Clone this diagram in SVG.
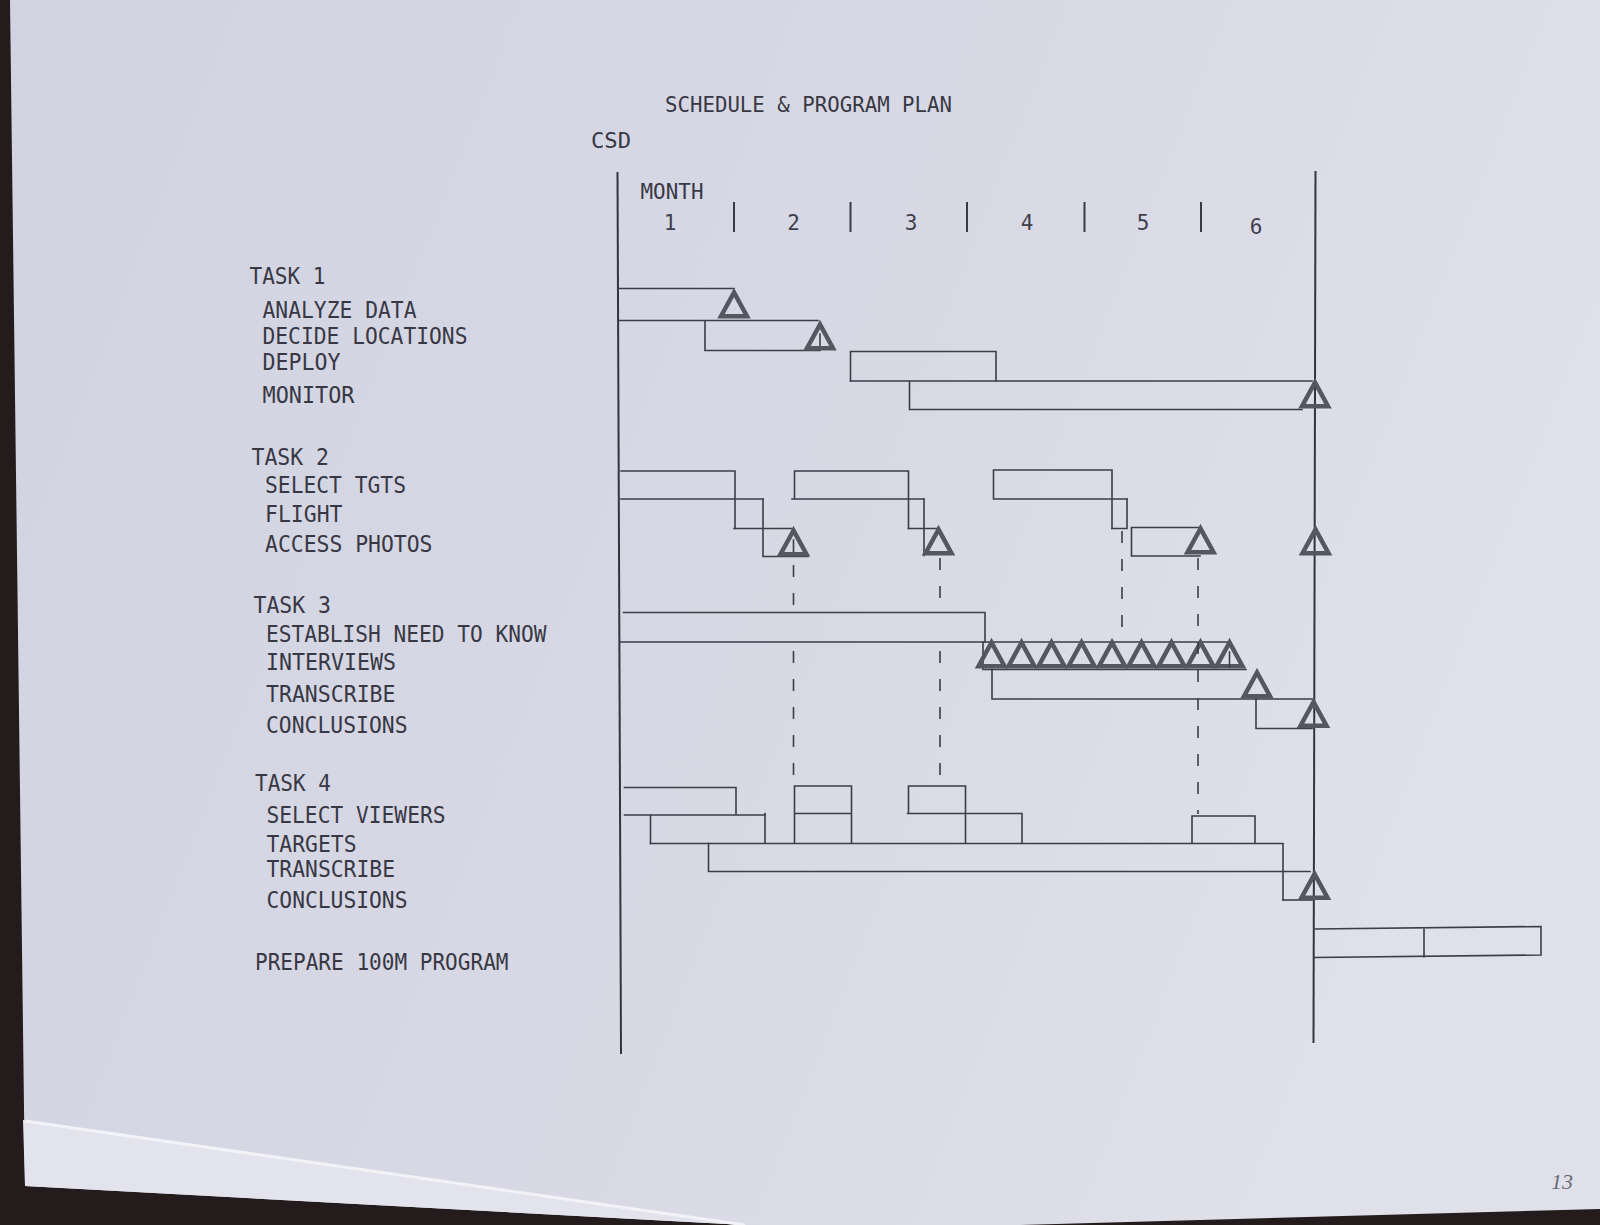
<svg xmlns="http://www.w3.org/2000/svg" xmlns:xlink="http://www.w3.org/1999/xlink" width="1600" height="1225" viewBox="0 0 1600 1225">
<defs>
<linearGradient id="paper" x1="0" y1="0" x2="1" y2="0.3">
<stop offset="0" stop-color="#d2d3e1"/>
<stop offset="0.6" stop-color="#d8d9e5"/>
<stop offset="1" stop-color="#dfe0e9"/>
</linearGradient>
<path id="tri" d="M0,-26 L-13,-2.3 L13,-2.3 Z"/>
<style>
.ln{fill:none;stroke:#3d3d49;stroke-width:1.6;stroke-linecap:square}
.ax{fill:none;stroke:#34343f;stroke-width:2}
.tk{fill:none;stroke:#3a3a46;stroke-width:2}
.ms{fill:none;stroke:#565662;stroke-width:4.5;stroke-linejoin:miter}
.dash{fill:none;stroke:#3d3d49;stroke-width:1.6;stroke-dasharray:12 16}
text{font-family:"DejaVu Sans Mono","Liberation Mono",monospace;fill:#383844;font-size:23px}
.hd{font-size:22px}
.num{font-size:21px;text-anchor:middle;fill:#40404c}
.pg{font-family:"Liberation Serif",serif;font-style:italic;font-size:22px;fill:#6a6a78}
</style>
</defs>

<!-- photo background and paper -->
<rect x="0" y="0" width="1600" height="1225" fill="#241c1c"/>
<path d="M10,0 H1600 V1209 L1020,1225 H745 L25,1186 Z" fill="url(#paper)"/>
<path d="M23,1120 L745,1225 L25,1186 Z" fill="#e2e3ec"/>
<path d="M25,1121 L745,1225" stroke="#f2f2f7" stroke-width="3" fill="none"/>

<!-- title and axis labels -->
<g id="title">
<text class="hd" x="665" y="111.5" textLength="287" lengthAdjust="spacingAndGlyphs">SCHEDULE &amp; PROGRAM PLAN</text>
<text class="hd" x="591" y="148" textLength="40" lengthAdjust="spacingAndGlyphs">CSD</text>
</g>

<g id="time-axis">
<path class="ax" d="M617.5,172 L621,1054"/>
<path class="ax" d="M1315.5,171 L1313.5,1043"/>
<path class="tk" d="M734,202 V232 M850.5,202 V232 M967,202 V232 M1084.5,202 V232 M1201,202 V232"/>
<text class="hd" x="640.5" y="198.5" textLength="63" lengthAdjust="spacingAndGlyphs">MONTH</text>
<text class="num" x="670" y="230">1</text>
<text class="num" x="793.5" y="230">2</text>
<text class="num" x="911" y="230">3</text>
<text class="num" x="1027" y="230">4</text>
<text class="num" x="1143" y="230">5</text>
<text class="num" x="1256" y="233.5">6</text>
</g>

<!-- task labels -->
<g id="labels">
<text x="249.5" y="284" textLength="76" lengthAdjust="spacingAndGlyphs">TASK 1</text>
<text x="262.5" y="318" textLength="154" lengthAdjust="spacingAndGlyphs">ANALYZE DATA</text>
<text x="262.5" y="344" textLength="205" lengthAdjust="spacingAndGlyphs">DECIDE LOCATIONS</text>
<text x="262.5" y="370" textLength="78" lengthAdjust="spacingAndGlyphs">DEPLOY</text>
<text x="262.5" y="402.5" textLength="92" lengthAdjust="spacingAndGlyphs">MONITOR</text>
<text x="251.5" y="465" textLength="77.5" lengthAdjust="spacingAndGlyphs">TASK 2</text>
<text x="265" y="493" textLength="141" lengthAdjust="spacingAndGlyphs">SELECT TGTS</text>
<text x="265" y="521.5" textLength="77.5" lengthAdjust="spacingAndGlyphs">FLIGHT</text>
<text x="265" y="551.5" textLength="167.5" lengthAdjust="spacingAndGlyphs">ACCESS PHOTOS</text>
<text x="253.5" y="613" textLength="77.5" lengthAdjust="spacingAndGlyphs">TASK 3</text>
<text x="266" y="641.5" textLength="280.5" lengthAdjust="spacingAndGlyphs">ESTABLISH NEED TO KNOW</text>
<text x="266" y="670" textLength="130" lengthAdjust="spacingAndGlyphs">INTERVIEWS</text>
<text x="266" y="701.5" textLength="129.5" lengthAdjust="spacingAndGlyphs">TRANSCRIBE</text>
<text x="266" y="733" textLength="141.5" lengthAdjust="spacingAndGlyphs">CONCLUSIONS</text>
<text x="255" y="790.5" textLength="76" lengthAdjust="spacingAndGlyphs">TASK 4</text>
<text x="266.5" y="822.5" textLength="179" lengthAdjust="spacingAndGlyphs">SELECT VIEWERS</text>
<text x="266.5" y="851.5" textLength="90" lengthAdjust="spacingAndGlyphs">TARGETS</text>
<text x="266.5" y="876.5" textLength="128.5" lengthAdjust="spacingAndGlyphs">TRANSCRIBE</text>
<text x="266.5" y="908" textLength="141" lengthAdjust="spacingAndGlyphs">CONCLUSIONS</text>
<text x="255" y="970" textLength="253.5" lengthAdjust="spacingAndGlyphs">PREPARE 100M PROGRAM</text>
</g>

<!-- Task 1 -->
<g id="t1-analyze-data">
<path class="ln" d="M619,288.5 H734 M618.5,320.5 H818"/>
<use xlink:href="#tri" href="#tri" class="ms" x="734" y="318.5"/>
</g>
<g id="t1-decide-locations">
<path class="ln" d="M705,321 V350.5 H820 M820,334 V350"/>
<use xlink:href="#tri" href="#tri" class="ms" x="820" y="350.5"/>
</g>
<g id="t1-deploy">
<path class="ln" d="M850.5,381 V351.5 H996 V381"/>
</g>
<g id="t1-monitor">
<path class="ln" d="M850.5,381 H1312 M909.5,381.5 V409.5 H1302"/>
<use xlink:href="#tri" href="#tri" class="ms" x="1315" y="408.5"/>
</g>

<!-- Task 2 -->
<g id="t2-select-tgts-1">
<path class="ln" d="M621,471 H735 V528.5 M621,499 H763"/>
</g>
<g id="t2-flight-1">
<path class="ln" d="M763,499 V556.5 M734,528.5 H793 M763,556.5 H808 M793.5,540 V556"/>
<use xlink:href="#tri" href="#tri" class="ms" x="793.5" y="556.5"/>
</g>
<g id="t2-select-tgts-2">
<path class="ln" d="M794.5,499 V471 H908.5 V528.5 M792,499 H924"/>
</g>
<g id="t2-flight-2">
<path class="ln" d="M924,499 V555.5 M908.5,528.5 H938"/>
<use xlink:href="#tri" href="#tri" class="ms" x="938.5" y="555.5"/>
</g>
<g id="t2-select-tgts-3">
<path class="ln" d="M993.5,499 V470 H1112 V528.5 M993.5,499 H1127"/>
</g>
<g id="t2-flight-3">
<path class="ln" d="M1127,499 V528.5 M1112,528.5 H1127"/>
</g>
<g id="t2-access-photos-3">
<path class="ln" d="M1131.5,527.5 V556 H1200 M1131.5,527.5 H1200.5"/>
<use xlink:href="#tri" href="#tri" class="ms" x="1200.5" y="554.5"/>
</g>
<g id="t2-milestone-end">
<use xlink:href="#tri" href="#tri" class="ms" x="1315.5" y="555.5"/>
</g>

<!-- Task 3 -->
<g id="t3-establish">
<path class="ln" d="M623.5,612.5 H985 V642 M620,642 H985"/>
</g>
<g id="t3-interviews">
<path class="ln" d="M983,642 V669.5 H1246 M985,642 H1229.5"/>
<use xlink:href="#tri" href="#tri" class="ms" x="991.5" y="668.5"/>
<use xlink:href="#tri" href="#tri" class="ms" x="1021.5" y="668.5"/>
<use xlink:href="#tri" href="#tri" class="ms" x="1051.5" y="668.5"/>
<use xlink:href="#tri" href="#tri" class="ms" x="1081.5" y="668.5"/>
<use xlink:href="#tri" href="#tri" class="ms" x="1112" y="668.5"/>
<use xlink:href="#tri" href="#tri" class="ms" x="1141.5" y="668.5"/>
<use xlink:href="#tri" href="#tri" class="ms" x="1171.5" y="668.5"/>
<use xlink:href="#tri" href="#tri" class="ms" x="1200.5" y="668.5"/>
<use xlink:href="#tri" href="#tri" class="ms" x="1229.5" y="668.5"/>
<path class="ln" d="M1229.5,652 V667"/>
</g>
<g id="t3-transcribe">
<path class="ln" d="M992,669.5 V699 H1312"/>
<use xlink:href="#tri" href="#tri" class="ms" x="1257" y="698.5"/>
</g>
<g id="t3-conclusions">
<path class="ln" d="M1256,699 V728.5 H1312"/>
<use xlink:href="#tri" href="#tri" class="ms" x="1313.5" y="728"/>
</g>

<!-- Task 4 -->
<g id="t4-select-viewers-1">
<path class="ln" d="M624.5,787.5 H736 V814 M624.5,815 H765"/>
</g>
<g id="t4-targets-1">
<path class="ln" d="M650.5,815.5 V843.5 M765,813.5 V843"/>
</g>
<g id="t4-block-2">
<path class="ln" d="M794.5,843 V786 H851.5 V843 M794.5,813.5 H850"/>
</g>
<g id="t4-block-3">
<path class="ln" d="M908.5,813.5 V786 H965.5 V843 M907.5,813.5 H1022 V843"/>
</g>
<g id="t4-block-4">
<path class="ln" d="M1192,843 V816 H1255 V843"/>
</g>
<g id="t4-targets-long">
<path class="ln" d="M650.5,843.5 H1283 V900"/>
</g>
<g id="t4-transcribe">
<path class="ln" d="M708.5,843.5 V871.5 H1310"/>
</g>
<g id="t4-conclusions">
<path class="ln" d="M1283,900 H1312"/>
<use xlink:href="#tri" href="#tri" class="ms" x="1314.5" y="900"/>
</g>

<!-- Prepare program -->
<g id="prepare-program">
<path class="ln" d="M1314,929 L1541,926.5 V955 L1314,957.5 M1424,928 V957"/>
</g>

<!-- dashed dependency connectors -->
<g id="connectors">
<path class="dash" d="M793.5,565 V608"/>
<path class="dash" d="M793.5,651 V782"/>
<path class="dash" d="M940,558 V608"/>
<path class="dash" d="M940,651 V782"/>
<path class="dash" d="M1122,531 V630"/>
<path class="dash" d="M1198,558 V814"/>
</g>

<text class="pg" x="1551" y="1189">13</text>
</svg>
